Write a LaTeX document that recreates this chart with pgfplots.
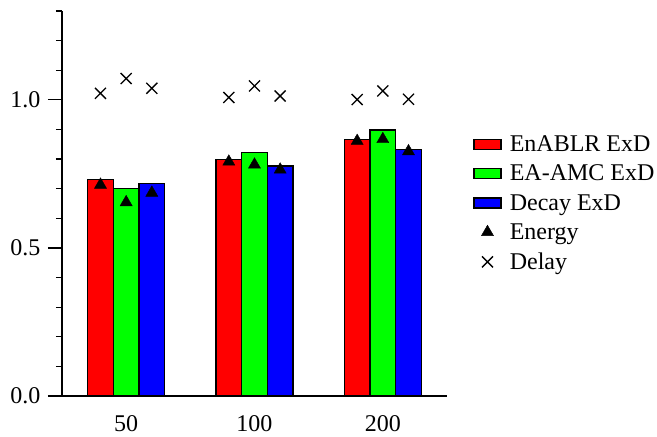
\documentclass[border=0pt]{standalone}
\usepackage{fontspec}
\setmainfont{Liberation Serif}
\usepackage{pgfplots}
\usepackage{pgfplotstable}
\pgfplotsset{compat=1.18}
\pgfplotsset{
  boxlegend/.style={legend image code/.code={\draw[##1] (0pt,-5pt) rectangle (27pt,5pt);}},
  marklegend/.style={legend image code/.code={\draw[mark repeat=2,mark phase=2,##1] plot coordinates {(0pt,0pt) (13.5pt,0pt) (27pt,0pt)};}},
}
\pgfplotstableread{
x r g b er eg eb dr dg db
0 0.731 0.701 0.717 0.713 0.654 0.686 1.022 1.072 1.039
1 0.799 0.822 0.777 0.791 0.781 0.764 1.008 1.047 1.013
2 0.866 0.898 0.833 0.861 0.867 0.826 1.001 1.030 1.002
}\data
\begin{document}
\begin{tikzpicture}
\useasboundingbox (-62pt,-41pt) rectangle (595pt,396pt);
\begin{axis}[
  at={(0pt,0pt)}, anchor=south west,
  scale only axis, width=385pt, height=385pt,
  xmin=-0.5, xmax=2.5, ymin=0, ymax=1.3,
  axis x line*=bottom, axis y line*=left,
  axis line style={line width=1.3pt, black},
  xtick={0,1,2}, xticklabels={50,100,200},
  ytick={0,0.5,1}, yticklabels={0.0,0.5,1.0},
  minor ytick={0.1,0.2,0.3,0.4,0.6,0.7,0.8,0.9,1.1,1.2,1.3},
  tick align=outside,
  major tick length=14pt, minor tick length=6pt,
  every tick/.style={black, line width=1.3pt},
  xtick style={draw=none},
  tick label style={font=\fontsize{24}{28}\selectfont, black},
  xticklabel style={yshift=-2pt},
  yticklabel style={xshift=-4pt},
  clip=false,
  legend cell align=left,
  legend style={at={(1.0675,0.682)}, anchor=north west, draw=none, fill=none,
    font=\fontsize{24}{28}\selectfont, row sep=8pt, inner sep=0pt,
    nodes={inner sep=2pt},
    /tikz/every odd column/.append style={column sep=6pt}},
]
\addplot[ybar, bar width=0.2, bar shift=0pt, fill=red, draw=black, line width=1.6pt, boxlegend]
  table[x expr=\thisrow{x}-0.2, y=r] {\data};
\addlegendentry{EnABLR ExD}
\addplot[ybar, bar width=0.2, bar shift=0pt, fill=green, draw=black, line width=1.6pt, boxlegend]
  table[x expr=\thisrow{x}, y=g] {\data};
\addlegendentry{EA-AMC ExD}
\addplot[ybar, bar width=0.2, bar shift=0pt, fill=blue, draw=black, line width=1.6pt, boxlegend]
  table[x expr=\thisrow{x}+0.2, y=b] {\data};
\addlegendentry{Decay ExD}
\addplot[only marks, mark=triangle*, mark size=7pt, black, mark options={fill=black}, marklegend]
  table[x expr=\thisrow{x}-0.2, y=er] {\data};
\addlegendentry{Energy}
\addplot[only marks, mark=triangle*, mark size=7pt, black, mark options={fill=black}, forget plot]
  table[x expr=\thisrow{x}, y=eg] {\data};
\addplot[only marks, mark=triangle*, mark size=7pt, black, mark options={fill=black}, forget plot]
  table[x expr=\thisrow{x}+0.2, y=eb] {\data};
\addplot[only marks, mark=x, mark size=7.8pt, black, mark options={line width=1.3pt}, marklegend]
  table[x expr=\thisrow{x}-0.2, y=dr] {\data};
\addlegendentry{Delay}
\addplot[only marks, mark=x, mark size=7.8pt, black, mark options={line width=1.3pt}, forget plot]
  table[x expr=\thisrow{x}, y=dg] {\data};
\addplot[only marks, mark=x, mark size=7.8pt, black, mark options={line width=1.3pt}, forget plot]
  table[x expr=\thisrow{x}+0.2, y=db] {\data};
\end{axis}
\end{tikzpicture}
\end{document}
